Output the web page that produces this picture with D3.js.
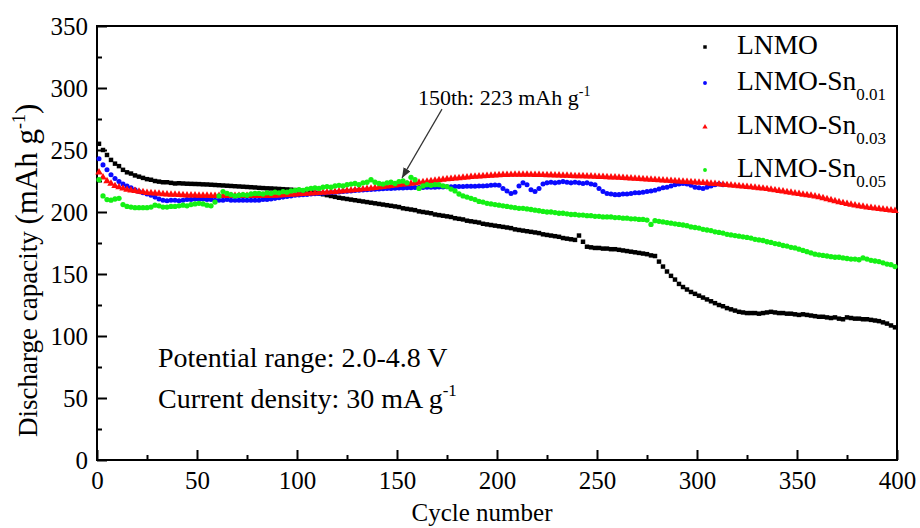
<!DOCTYPE html>
<html>
<head>
<meta charset="utf-8">
<script src="https://cdn.jsdelivr.net/npm/d3@7/dist/d3.min.js"></script>
<style>
body{margin:0;background:#fff;}
svg text{font-family:'Liberation Serif',Tinos,'Times New Roman',Times,'Nimbus Roman','Noto Serif','DejaVu Serif',FreeSerif,serif;fill:#000;}
</style>
</head>
<body>
<div id="chart-area"></div>
<script>
// cycle numbers (every 2nd cycle)
var cycles = d3.range(1, 400, 2);

var lnmo = [
  255, 250, 246, 242, 239, 237, 234, 232, 231, 229.5, 228.5, 227.5, 226.5, 226, 225, 224.5, 224, 224, 223.5, 223,
  223.2, 223, 222.8, 222.7, 222.6, 222.5, 222.3, 222.2, 222, 221.8, 221.6, 221.4, 221.2, 221, 220.8, 220.6, 220.4, 220.2, 220, 219.8,
  219.5, 219.3, 219.1, 219, 218.8, 218.6, 218.4, 218.2, 218, 217.7, 217.4, 217, 216.5, 216, 215.5, 215, 214.3, 213.6, 212.9, 212.2,
  211.5, 211, 210.5, 210, 209.5, 209, 208.5, 208, 207.5, 207, 206.5, 206, 205.5, 205, 204.5, 204, 203, 202.5, 202, 201.5,
  200.5, 200, 199.5, 199, 198, 197.5, 197, 196.5, 196, 195, 194.5, 194, 193, 192.5, 192, 191.5, 190.5, 190, 189.5, 189,
  188.5, 188, 187.5, 187, 186, 185.5, 185, 184.5, 184, 183.5, 183, 182, 181.5, 181, 180.5, 180, 179, 178.5, 178, 177.5,
  181, 176, 172, 171.5, 171, 171, 170.5, 170.5, 170, 170, 169.5, 169, 168.5, 168, 167.5, 167, 166.5, 166, 165, 164.5,
  160, 156, 152, 148.5, 145.5, 142, 139.5, 137.5, 135.5, 134, 132.5, 131, 129.5, 128, 126.5, 125, 124, 122.5, 121.5, 120.5,
  119.5, 119, 118.5, 118.5, 118.5, 118, 118.5, 119, 119.5, 119, 118.5, 118.5, 118, 118, 117.5, 117, 117.5, 117, 116.5, 116,
  115.5, 115.5, 115, 114.5, 115, 114, 113.5, 115, 114.5, 114, 114, 113.5, 113.5, 113, 112.5, 112, 111, 110, 108.5, 107
];

// Sn 0.01 stops near cycle 313
var sn001 = [
  243, 238, 234, 230, 227, 224.5, 222.5, 221, 219.5, 218, 216.5, 215.5, 214.5, 213.5, 212, 210.5, 209.5, 209, 209.5, 209.5,
  209, 209.5, 210, 210, 210.5, 210.5, 210.5, 210, 210, 209.5, 209.5, 209.5, 210, 209.5, 209.5, 209.5, 209.5, 209.5, 209.5, 209.5,
  209.5, 210, 210, 210.5, 211, 211.5, 212, 212.5, 213, 213.5, 213.8, 214, 214.2, 214.5, 214.8, 215, 215.2, 215.5, 215.8, 216,
  216.2, 216.5, 216.8, 217, 217.3, 217.5, 217.8, 218, 218.2, 218.4, 218.6, 218.8, 219, 219, 219.2, 219.3, 219.4, 219.5, 219.6, 219.7,
  219.8, 219.8, 219.9, 220, 220, 220.1, 220.2, 220.3, 220.4, 220.5, 220.5, 220.6, 220.7, 220.8, 220.8, 221, 221, 221.2, 221.5, 221.8,
  221.5, 219, 217, 215, 216, 221, 223.5, 222, 218, 216.5, 219, 222.5, 223.5, 224, 223.5, 224, 224.5, 224, 223.5, 224,
  223.5, 223, 223.5, 222.5, 222, 219, 216.5, 215, 214.5, 214, 214, 214.5, 214.5, 215, 215.5, 215.5, 216, 216.5, 217, 217.5,
  218.5, 219.5, 220, 221, 222, 222.5, 223, 222.5, 221.5, 220, 219.5, 219, 220, 221, 222, 222.5, 222
];

var sn003 = [
  232, 228, 225, 223, 221, 220, 219, 218, 217.5, 217, 216.5, 216, 215.5, 215.2, 215, 214.8, 214.5, 214.3, 214, 214,
  213.8, 213.7, 213.5, 213.5, 213.4, 213.3, 213.2, 213.2, 213.1, 213, 213, 213, 213, 213, 213, 213, 213, 213, 213, 213,
  213, 213, 213.1, 213.2, 213.3, 213.5, 213.6, 213.8, 214, 214.2, 214.4, 214.6, 214.8, 215, 215.2, 215.4, 215.6, 215.8, 216, 216.3,
  216.6, 216.9, 217.2, 217.5, 217.8, 218.1, 218.4, 218.7, 219, 219.4, 219.8, 220.2, 220.6, 221, 221.4, 221.8, 222.2, 222.6, 223, 223.4,
  223.8, 224.2, 224.6, 225, 225.4, 225.8, 226.2, 226.5, 226.8, 227.1, 227.4, 227.7, 228, 228.3, 228.5, 228.7, 229, 229.2, 229.4, 229.6,
  229.8, 230, 230, 230.1, 230.2, 230.2, 230.2, 230.2, 230.1, 230, 230, 229.9, 229.8, 229.7, 229.6, 229.5, 229.4, 229.3, 229.2, 229,
  229, 228.9, 228.8, 228.7, 228.5, 228.4, 228.3, 228.1, 228, 227.9, 227.7, 227.5, 227.3, 227.1, 226.9, 226.7, 226.5, 226.3, 226.1, 225.9,
  225.7, 225.5, 225.3, 225.1, 224.9, 224.7, 224.5, 224.3, 224.1, 223.9, 223.7, 223.5, 223.3, 223, 222.7, 222.4, 222.1, 221.8, 221.5, 221.2,
  220.9, 220.6, 220.3, 220, 219.7, 219.3, 219, 218.6, 218.1, 217.6, 217.1, 216.6, 216.1, 215.6, 215.1, 214.6, 214.1, 213.6, 213.2, 212.7,
  212, 211.2, 210.4, 209.6, 208.8, 208, 207.3, 206.6, 206, 205.4, 204.8, 204.3, 203.8, 203.4, 203, 202.6, 202.2, 201.8, 201.4, 201
];

var sn005 = [
  226, 213, 210, 209.5, 210.5, 211, 206, 204.5, 204, 203.5, 203.5, 203.5, 203.5, 204, 205.5, 205, 204, 204, 204.5, 204.5,
  205, 205.5, 205, 206, 206.5, 207, 206.5, 205.5, 205, 208, 213, 216.5, 215, 214, 213, 213.5, 214, 213.5, 214.5, 215,
  215, 214.5, 215.5, 215, 216, 215.5, 216.5, 216, 217, 217.5, 218, 217.5, 218.5, 219, 219.5, 219, 220, 220.5, 220, 221,
  221.5, 221, 222, 222.5, 223, 222, 223.5, 224, 226, 224, 223, 222.5, 223.5, 224, 223, 224.5, 225, 223.5, 228, 226,
  219, 221, 222, 221.5, 222, 222, 221, 220.5, 218.5, 217, 214.5, 213, 212, 211, 210, 208.5, 208, 207, 206.5, 206,
  205.5, 205, 204.5, 204, 203.5, 203, 203, 202.5, 202, 201.5, 201, 200.5, 200, 200, 199.5, 199, 199, 198.5, 198, 198,
  197.5, 197.5, 197, 197, 196.5, 196.5, 196, 196, 196, 195.5, 195.5, 195, 195, 194.5, 194.5, 194, 194, 193.5, 190, 193,
  192.5, 192, 191.5, 191, 190.5, 190, 189.5, 189, 188, 187.5, 187, 186, 185.5, 185, 184, 183.5, 183, 182, 181.5, 181,
  180.5, 180, 179.5, 179, 178, 177.5, 177, 176, 175.5, 174.5, 174, 173, 172.5, 171.5, 171, 170, 169, 168, 167, 166,
  165.5, 165, 164.5, 164, 163.5, 163.5, 163, 162.5, 162, 162, 161.5, 163, 162, 161, 160.5, 160, 159, 158, 157.5, 156
];

var seriesNames = ['LNMO', 'LNMO-Sn', 'LNMO-Sn', 'LNMO-Sn'];
var seriesSubs = ['', '0.01', '0.03', '0.05'];
var xTicks = [0, 50, 100, 150, 200, 250, 300, 350, 400];
var yTicks = [0, 50, 100, 150, 200, 250, 300, 350];

var svgWidth = 920;
var svgHeight = 528;
var margin = {left:97, right:23, top:26, bottom:68};
var width = svgWidth - margin.left - margin.right;
var height = svgHeight - margin.top - margin.bottom;

var svg = d3.select('#chart-area')
            .append('svg')
            .attr('width', svgWidth)
            .attr('height', svgHeight);

var defs = svg.append('defs');
defs.append('marker')
    .attr('id', 'arrow')
    .attr('markerUnits', 'userSpaceOnUse')
    .attr('markerWidth', 10)
    .attr('markerHeight', 8)
    .attr('refX', 10)
    .attr('refY', 4)
    .attr('orient', 'auto')
  .append('path')
    .attr('d', 'M0,0 L10,4 L0,8 Z')
    .attr('fill', '#333');

var g = svg.append('g').attr('transform', 'translate(' + margin.left + ',' + margin.top + ')');

var x = d3.scaleLinear().domain([0, 400]).range([0, width]);
var y = d3.scaleLinear().domain([0, 350]).range([height, 0]);

// minor ticks
g.append('g')
 .attr('transform', 'translate(0,' + height + ')')
 .call(d3.axisBottom(x).tickValues(d3.range(25, 400, 50)).tickSizeInner(-5).tickSizeOuter(0).tickFormat(''))
 .call(a => a.select('.domain').remove());
g.append('g')
 .call(d3.axisLeft(y).tickValues(d3.range(25, 350, 50)).tickSizeInner(-5).tickSizeOuter(0).tickFormat(''))
 .call(a => a.select('.domain').remove());

// major ticks + labels
var xAxis = g.append('g')
 .attr('transform', 'translate(0,' + height + ')')
 .call(d3.axisBottom(x).tickValues(xTicks).tickSizeInner(-10).tickSizeOuter(0).tickPadding(11));
xAxis.select('.domain').remove();

var yAxis = g.append('g')
 .call(d3.axisLeft(y).tickValues(yTicks).tickSizeInner(-10).tickSizeOuter(0).tickPadding(9));
yAxis.select('.domain').remove();

g.selectAll('.tick text')
 .attr('font-size', 25)
 .attr('fill', '#000');
g.selectAll('.tick line').attr('stroke', '#000').attr('stroke-width', 2);

// frame
g.append('rect')
 .attr('width', width)
 .attr('height', height)
 .attr('fill', 'none')
 .attr('stroke', '#000')
 .attr('stroke-width', 2);

// data
var series = [
  {values: lnmo, color: '#000000', symbol: d3.symbolSquare, size: 20},
  {values: sn001, color: '#0a0aff', symbol: d3.symbolCircle, size: 20},
  {values: sn003, color: '#ff0a0a', symbol: d3.symbolTriangle, size: 24},
  {values: sn005, color: '#14f014', symbol: d3.symbolCircle, size: 22}
];

series.forEach(function(s){
    g.append('g')
     .selectAll('path')
     .data(s.values)
     .enter()
     .append('path')
     .attr('transform', function(d, i){
         return 'translate(' + x(cycles[i]) + ',' + y(d) + ')';
     })
     .attr('d', d3.symbol().type(s.symbol).size(s.size))
     .attr('fill', s.color);
});

// legend
var legendY = [19, 55, 99, 142];
var leg = g.append('g').attr('transform', 'translate(608,0)');
series.forEach(function(s, i){
    leg.append('path')
       .attr('transform', 'translate(0,' + (legendY[i] + 2) + ')')
       .attr('d', d3.symbol().type(s.symbol).size(12))
       .attr('fill', s.color);
    var t = leg.append('text')
       .attr('x', 32)
       .attr('y', legendY[i] + 9)
       .attr('font-size', 27.5)
       .text(seriesNames[i]);
    if (seriesSubs[i]) {
        t.append('tspan').attr('dy', 10).attr('font-size', 17).text(seriesSubs[i]);
    }
});

// annotations
var ann = g.append('text')
 .attr('x', x(160.5))
 .attr('y', y(286))
 .attr('font-size', 22)
 .text('150th: 223 mAh g');
ann.append('tspan').attr('dy', -9).attr('font-size', 14).text('-1');

g.append('line')
 .attr('x1', x(172.5)).attr('y1', y(283))
 .attr('x2', x(152.5)).attr('y2', y(227.5))
 .attr('stroke', '#333')
 .attr('stroke-width', 1.2)
 .attr('marker-end', 'url(#arrow)');

g.append('text')
 .attr('x', x(30.5))
 .attr('y', y(75))
 .attr('font-size', 28)
 .text('Potential range: 2.0-4.8 V');

var cd = g.append('text')
 .attr('x', x(30.5))
 .attr('y', y(42))
 .attr('font-size', 28)
 .text('Current density: 30 mA g');
cd.append('tspan').attr('dy', -12).attr('font-size', 17).text('-1');

// axis titles
svg.append('text')
 .attr('x', 482)
 .attr('y', 521)
 .attr('text-anchor', 'middle')
 .attr('font-size', 25)
 .text('Cycle number');

var yt = svg.append('text')
 .attr('transform', 'translate(37,437) rotate(-90)')
 .attr('font-size', 27)
 .text('Discharge capacity ');
yt.append('tspan').attr('font-size', 31).text('(mAh g');
yt.append('tspan').attr('dy', -12).attr('font-size', 18).text('-1');
yt.append('tspan').attr('dy', 12).attr('font-size', 31).text(')');
</script>
</body>
</html>
